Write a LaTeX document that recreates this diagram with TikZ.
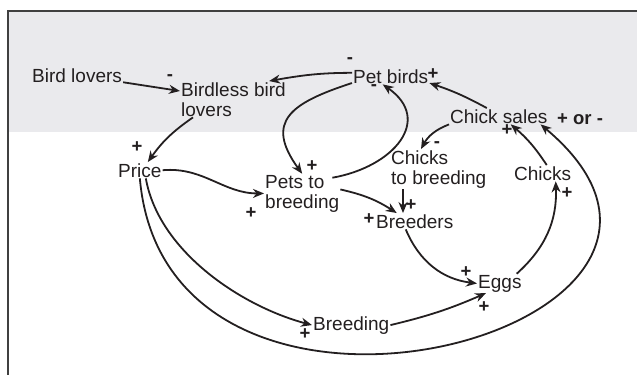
\documentclass[tikz,border=0pt]{standalone}
\usepackage{fontspec}
\setmainfont{Liberation Sans}
\usetikzlibrary{arrows.meta}
\definecolor{band}{RGB}{234,234,237}
\definecolor{ink}{RGB}{35,31,32}

\begin{document}
\begin{tikzpicture}[
            x=1pt, y=1pt,
            every node/.style={font=\fontsize{19}{20}\selectfont, text=ink},
            var/.style={inner sep=1pt, align=left, anchor=base west},
            sign/.style={font=\bfseries\fontsize{18.5}{20}\selectfont, inner sep=0pt},
            arrow/.style={-{Stealth[length=11pt, width=9pt]}, line width=1.8pt, draw=ink}
      ]
      \useasboundingbox (0,0) rectangle (637,-375);
      % Frame and shaded band
      \fill[band] (8,-11) rectangle (637,-132);
      \draw[line width=1.5pt, draw=black!75] (637,-11) -- (8,-11) -- (8,-375);

      % Band row
      \node[var] (lovers)     at (31,-82)   {Bird lovers};
      \node[var] (birdless)   at (180,-116) {Birdless bird\\lovers};
      \node[var] (petbirds)   at (352,-83)  {Pet birds};
      \node[var] (chicksales) at (449,-123) {Chick sales};
      \node[sign, anchor=base west] (either) at (557,-124) {+ or -};

      % Middle row
      \node[var] (price)       at (117,-177) {Price};
      \node[var] (petsbreed)   at (264,-208) {Pets to\\breeding};
      \node[var] (chicksbreed) at (390,-184) {Chicks\\to breeding};
      \node[var] (chicks)      at (513,-180) {Chicks};
      \node[var] (breeders)    at (375,-228) {Breeders};

      % Bottom row
      \node[var] (eggs)     at (477,-288) {Eggs};
      \node[var] (breeding) at (312,-330) {Breeding};

      % Polarities
      \node[sign] (sg1)  at (170,-78)  {-};
      \node[sign] (sg2)  at (137,-147) {+};
      \node[sign] (sg3)  at (312,-166) {+};
      \node[sign] (sg4)  at (251,-213) {+};
      \node[sign] (sg5)  at (350,-61)  {-};
      \node[sign] (sg6)  at (374,-88)  {-};
      \node[sign] (sg7)  at (433,-74)  {+};
      \node[sign] (sg8)  at (437,-145) {-};
      \node[sign] (sg9)  at (507,-130) {+};
      \node[sign] (sg10) at (411,-205) {+};
      \node[sign] (sg11) at (369,-219) {+};
      \node[sign] (sg12) at (466,-272) {+};
      \node[sign] (sg13) at (484,-307) {+};
      \node[sign] (sg14) at (305,-334) {+};
      \node[sign] (sg15) at (567,-193) {+};

      \draw[arrow] (lovers) -- (birdless);
      \draw[arrow] (petbirds.175) to[out=180, in=10] (birdless.27);
      \draw[arrow] (petbirds.190) to[out=198, in=126, looseness=1.6] (petsbreed.north);
      \draw[arrow] ([shift={(-8pt,-4pt)}]petsbreed.north east) to[out=10, in=-35, looseness=1.5] ([xshift=-8pt]petbirds.south);
      \draw[arrow] (price.east) to[out=5, in=180] (petsbreed.west);
      \draw[arrow] ([xshift=13pt]birdless.south west) to[bend right=10] ([xshift=8pt]price.north);

      \draw[arrow] ([yshift=4pt]petsbreed.east) to[bend left=10] ([xshift=-18pt]breeders.north);
      \draw[arrow] ([xshift=13pt]chicksbreed.south west) -- ([xshift=13pt]chicksbreed.south west |- breeders.north);
      \draw[arrow] (chicksales.south west) to[bend right=20] ([xshift=31pt]chicksbreed.north west);
      \draw[arrow] ([xshift=-12pt]chicksales.north) to[bend right=5] (petbirds.-10);
      \draw[arrow] ([xshift=4pt]chicks.north) to[bend right=8] ([xshift=12pt]chicksales.south);

      \draw[arrow] ([xshift=-6pt]eggs.north east) to[bend right=25] ([xshift=13pt]chicks.south);
      \draw[arrow] ([xshift=-9pt]breeders.south) to[bend right=30] (eggs.west);
      \draw[arrow] (breeding.east) to[bend right=5] ([xshift=9pt]eggs.south west);
      \draw[arrow] ([xshift=6pt]price.south) to[out=-80, in=165, looseness=0.85] (breeding.west);
      \draw[arrow] (price.south) to[out=-85, in=-40, looseness=2.0] ([xshift=-8pt]chicksales.south east);
\end{tikzpicture}
\end{document}
